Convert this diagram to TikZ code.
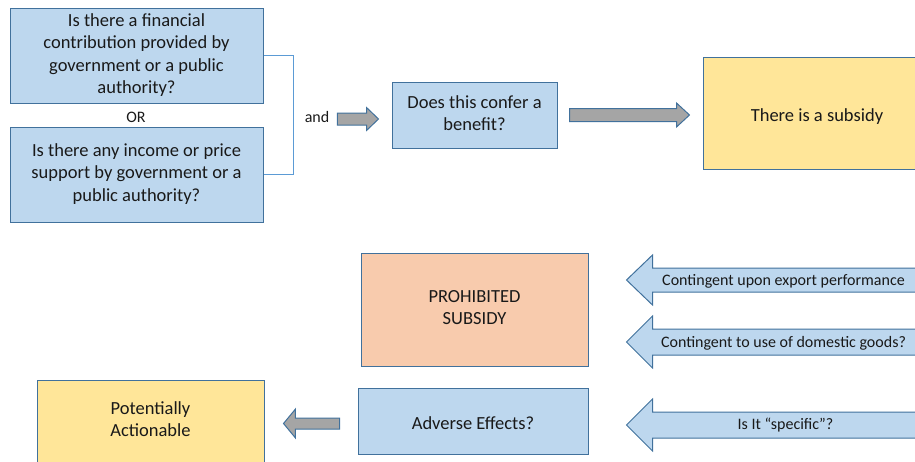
\documentclass[tikz,border=0pt]{standalone}
\usepackage{fontspec}
\setmainfont{Carlito}
\usetikzlibrary{calc,positioning}

\definecolor{qblue}{HTML}{BDD7EE}
\definecolor{edgeblue}{HTML}{41719C}
\definecolor{linkblue}{HTML}{5B9BD5}
\definecolor{ansyellow}{HTML}{FFE699}
\definecolor{banred}{HTML}{F8CBAD}
\definecolor{arrowgray}{HTML}{A5A5A5}

\newcommand\boxfont{\fontsize{18.5}{22.6}\selectfont}
\newcommand\tagfont{\fontsize{16}{19}\selectfont}
\newcommand\boxstrut{\rule[-4pt]{0pt}{24pt}}

\newcommand\blockarrow[6]{%
  \path[#1] let \p1=(#2), \p2=(#3), \p3=($(#3)!#6!(#2)$) in
    (\x1,\y2+#4) -- (\x3,\y2+#4) -- (\x3,\y2+#5) -- (\x2,\y2)
    -- (\x3,\y2-#5) -- (\x3,\y2-#4) -- (\x1,\y2-#4) -- cycle;}

\begin{document}
\begin{tikzpicture}[x=1pt,y=-1pt]
   \tikzstyle{qbox}=[draw=edgeblue,line width=1pt,fill=qblue,align=center,inner sep=0pt,font=\boxfont,text=black!90,
      execute at begin node=\boxstrut,execute at end node=\boxstrut]
   \tikzstyle{ansbox}=[qbox,fill=ansyellow]
   \tikzstyle{banbox}=[qbox,fill=banred]
   \tikzstyle{lbl}=[inner sep=0pt,font=\tagfont,text=black!90]
   \tikzstyle{grayarr}=[draw=edgeblue,line width=1pt,fill=arrowgray]
   \tikzstyle{bluearr}=[draw=edgeblue,line width=1pt,fill=qblue]

   \useasboundingbox (0,0) rectangle (915,461);
   \clip (0,0) rectangle (915,461);

   \node (fin) [qbox,minimum width=253,minimum height=95] at (136.5,55.5)
      {Is there a financial\\contribution provided by\\government or a public\\authority?};
   \node (orlbl) [lbl] at (136,117) {OR};
   \node (inc) [qbox,minimum width=253,minimum height=95] at (136.5,174.5)
      {Is there any income or price\\support by government or a\\public authority?};
   \draw [linkblue,line width=1pt] (fin.east) -- ++(30,0) |- (inc.east);

   \node (andlbl) [lbl] at (317,117) {and};
   \node (benefit) [qbox,minimum width=165,minimum height=66] at (474.5,115)
      {Does this confer a\\benefit?};
   \node (subsidy) [ansbox,minimum width=228,minimum height=112] at (817,113)
      {There is a subsidy};

   \node (prohib) [banbox,minimum width=227,minimum height=113] at (474.5,309.5)
      {PROHIBITED\\SUBSIDY};
   \node (adverse) [qbox,minimum width=230,minimum height=66] at (473,421)
      {Adverse Effects?};
   \node (potent) [ansbox,minimum width=227,minimum height=82] at (150.5,421)
      {Potentially\\Actionable};

   \coordinate (g1s) at ([xshift=8pt]andlbl.east);
   \coordinate (g1e) at ([xshift=-13pt,yshift=-4pt]benefit.west);
   \coordinate (g2s) at ([xshift=12pt]benefit.east);
   \coordinate (g2e) at ([xshift=-13pt,yshift=-2pt]subsidy.west);
   \coordinate (g3s) at ([xshift=-18pt]adverse.west);
   \coordinate (g3e) at ([xshift=19pt,yshift=-2.5pt]potent.east);
   \blockarrow{grayarr}{g1s}{g1e}{6pt}{11.5pt}{12pt}
   \blockarrow{grayarr}{g2s}{g2e}{6.5pt}{12pt}{13pt}
   \blockarrow{grayarr}{g3s}{g3e}{5.5pt}{14.5pt}{12pt}

   \coordinate (b1e) at ([xshift=38pt,yshift=29.5pt]prohib.east);
   \coordinate (b2e) at ([xshift=38pt,yshift=-32.5pt]prohib.east);
   \coordinate (b3e) at ([xshift=38pt,yshift=-4pt]adverse.east);
   \coordinate (b1s) at ([xshift=340pt]b1e);
   \coordinate (b2s) at ([xshift=340pt]b2e);
   \coordinate (b3s) at ([xshift=340pt]b3e);
   \blockarrow{bluearr}{b1s}{b1e}{12pt}{25pt}{26pt}
   \blockarrow{bluearr}{b2s}{b2e}{13pt}{26pt}{26pt}
   \blockarrow{bluearr}{b3s}{b3e}{13pt}{26pt}{26pt}
   \node (c1) [lbl] at ($(b1e)+(157,1)$) {Contingent upon export performance};
   \node (c2) [lbl] at ($(b2e)+(157,1)$) {Contingent to use of domestic goods?};
   \node (c3) [lbl] at ($(b3e)+(159,0)$) {Is It “specific”?};
\end{tikzpicture}
\end{document}
